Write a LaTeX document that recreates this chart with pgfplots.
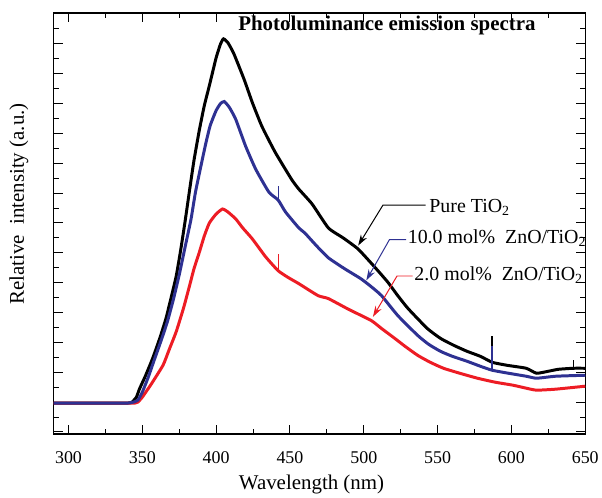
\documentclass[border=0pt]{standalone}
\usepackage{pgfplots}
\pgfplotsset{compat=1.18}
\usepackage{fontspec}
\setmainfont{Liberation Serif}
\usetikzlibrary{arrows.meta}
\definecolor{cblue}{RGB}{46,49,146}
\definecolor{cred}{RGB}{237,28,36}
\begin{document}
\begin{tikzpicture}
\begin{axis}[name=ax, scale only axis, width=534pt, height=423pt,
  xmin=290, xmax=650, ymin=0, ymax=423,
  xtick={300,350,...,650}, minor x tick num=1,
  ytick={2,32,...,422}, minor y tick num=1, yticklabels={},
  tick align=inside, xtick pos=both, ytick pos=both,
  major tick length=9pt, minor tick length=5pt,
  axis line style={line width=1.3pt},
  every tick/.style={black, line width=1pt},
  /pgf/number format/assume math mode=true,
  /pgf/number format/1000 sep={},
  xticklabel={\pgfmathprintnumber[assume math mode=true]{\tick}},
  xticklabel style={font=\fontsize{18}{20}\selectfont, yshift=-14pt},
  xlabel={Wavelength (nm)}, ylabel={Relative\ \ intensity (a.u.)},
  label style={font=\fontsize{21}{24}\selectfont},
  xlabel style={at={(axis description cs:0.485,-0.121)}, anchor=center},
  ylabel style={at={(axis description cs:-0.0655,0.546)}, anchor=center},
  clip=false]
% Pure TiO2 (black)
\addplot[black, line width=3pt, smooth, tension=0.3] coordinates {
(290,31) (300,31) (310,31) (320,31) (330,31) (340,31) (343,32) (346,37) (348,45)
(352,58) (357,76) (362,97) (366,116) (370,140) (373,159) (376,185) (379,214)
(382,245) (385,275) (388.7,306) (392,330) (395.4,350) (400,378) (403,392) (405,397) (408,393)
(412,382) (419,356) (424.5,333) (431,309) (440,283) (451,256) (456,246)
(465,231) (476,207) (486,197) (496,186) (506,170) (516,153) (523,139) (530,126)
(543,106) (552,96) (561,89) (570,83) (579,78) (587,72) (597,69)
(610,66) (617,61) (625,63) (632,65) (642,66) (650,66)};
\addplot[black, line width=1.2pt] coordinates {(586.9,72) (586.9,98)};
\addplot[black, line width=1pt] coordinates {(642,66) (642,74)};
% 2.0 mol% ZnO/TiO2 (red)
\addplot[cred, line width=3pt, smooth, tension=0.3] coordinates {
(290,31) (300,31) (310,31) (320,31) (330,31) (340,31) (345,31) (347,32) (350,37)
(356,50) (364,69) (368,84) (373,103) (378,127) (382,149) (385,166) (388.7,183)
(392,199) (395.4,212) (400,221) (404.3,226) (408,223) (413.3,216) (418,207)
(424.5,196) (433.5,178) (442,164) (449,157) (456,151)
(469,139) (476,136) (490,125) (505,114) (512,106) (521,96) (528,88) (536.5,79)
(545,72) (554,66) (565,61) (577,56) (589,52) (601,49) (610,46) (617,44) (630,45) (650,48)};
\addplot[cred, line width=1.2pt] coordinates {(442,164) (442,181)};
% 10.0 mol% ZnO/TiO2 (blue)
\addplot[cblue, line width=3pt, smooth, tension=0.3] coordinates {
(290,31) (300,31) (310,31) (320,31) (330,31) (340,31) (344,32) (347,34) (350,42)
(354,57) (358,74) (363,95) (367,113) (371,135) (375,160) (379,188) (383,216)
(386,243) (389.8,270) (393,292) (396,310) (400,325) (403,332) (405.5,334) (409,328) (413.3,316)
(420,289) (426.8,266) (435.7,243) (442,235) (447,223)
(456,207) (460,202) (468,189) (476,177) (487,166) (498,156) (505,148) (512,139)
(523,119) (536.5,99) (544,90) (552,83) (560,78) (570,73) (579,68) (587,64)
(598,61) (610,58) (617,56) (630,58) (650,59)};
\addplot[cblue, line width=1.2pt] coordinates {(442,235) (442,249)};
\addplot[cblue, line width=1.2pt] coordinates {(586.9,64) (586.9,88)};
% annotations
\node[anchor=base west, font=\fontsize{21}{24}\selectfont\bfseries, inner sep=0pt]
  at (axis cs:414.9,405.5) {Photoluminance emission spectra};
\node[anchor=base west, font=\fontsize{20}{24}\selectfont, inner sep=0pt]
  at (axis cs:544.3,222.7) {Pure TiO\textsubscript{2}};
\node[anchor=base west, font=\fontsize{20}{24}\selectfont, inner sep=0pt]
  at (axis cs:529.7,191) {10.0 mol\%\ \ ZnO/TiO\textsubscript{2}};
\node[anchor=base west, font=\fontsize{20}{24}\selectfont, inner sep=0pt]
  at (axis cs:534.2,154.3) {2.0 mol\%\ \ ZnO/TiO\textsubscript{2}};
\draw[black, line width=1pt, -{Stealth[length=11pt,width=7pt]}]
  (axis cs:541.8,230) -- (axis cs:513,230) -- (axis cs:496.2,189.3);
\draw[cblue, line width=1pt, -{Stealth[length=11pt,width=7pt]}]
  (axis cs:528.6,195.3) -- (axis cs:517.4,195.3) -- (axis cs:501.7,154.3);
\draw[cred, line width=1pt, -{Stealth[length=11pt,width=7pt]}]
  (axis cs:533.1,158.7) -- (axis cs:522.5,158.7) -- (axis cs:506.2,117.7);
\end{axis}
\path ([shift={(-54pt,-61pt)}]ax.south west) rectangle ([shift={(14pt,13pt)}]ax.north east);
\end{tikzpicture}
\end{document}
